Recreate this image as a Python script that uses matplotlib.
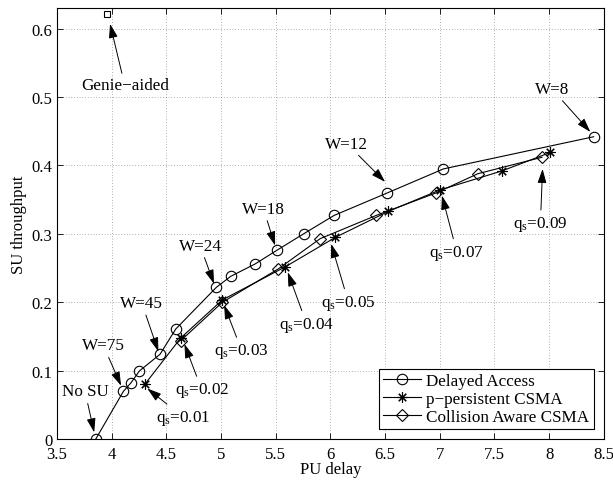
import matplotlib
matplotlib.use("Agg")
import matplotlib.pyplot as plt
import numpy as np

plt.rcParams['font.family'] = ['Liberation Serif', 'DejaVu Serif']
plt.rcParams['mathtext.fontset'] = 'custom'
plt.rcParams['mathtext.rm'] = 'Liberation Serif'
plt.rcParams['mathtext.it'] = 'Liberation Serif:italic'

# Data
da_x = [3.854, 4.107, 4.177, 4.253, 4.442, 4.586, 4.958, 5.089, 5.311, 5.51, 5.754, 6.034, 6.522, 7.034, 8.407]
da_y = [0.0, 0.0698, 0.0824, 0.0996, 0.124, 0.161, 0.222, 0.238, 0.256, 0.276, 0.300, 0.327, 0.360, 0.395, 0.442]

pp_x = [4.305, 4.632, 5.012, 5.589, 6.046, 6.531, 6.998, 7.568, 8.01]
pp_y = [0.0805, 0.148, 0.2035, 0.252, 0.295, 0.333, 0.364, 0.392, 0.419]

ca_x = [4.632, 5.012, 5.525, 5.906, 6.419, 6.968, 7.349, 7.935]
ca_y = [0.144, 0.200, 0.249, 0.293, 0.327, 0.360, 0.388, 0.412]

genie_x = [3.955]
genie_y = [0.621]

legend_labels = ['Delayed Access', 'p\u2212persistent CSMA', 'Collision Aware CSMA']

# annotations: (text, text_x, text_y, tip_x, tip_y)
annotations = [
    ('Genie\u2212aided', 4.12, 0.517, 3.985, 0.607),
    ('W=8', 8.025, 0.512, 8.377, 0.449),
    ('W=12', 6.15, 0.432, 6.50, 0.376),
    ('W=18', 5.387, 0.337, 5.494, 0.283),
    ('W=24', 4.808, 0.283, 4.936, 0.227),
    ('W=45', 4.275, 0.199, 4.427, 0.128),
    ('W=75', 3.924, 0.137, 4.086, 0.078),
    ('No SU', 3.756, 0.0698, 3.84, 0.0098),
    ('q$_{\\rm s}$=0.01', 4.656, 0.032, 4.326, 0.074),
    ('q$_{\\rm s}$=0.02', 4.824, 0.072, 4.665, 0.139),
    ('q$_{\\rm s}$=0.03', 5.19, 0.129, 5.028, 0.196),
    ('q$_{\\rm s}$=0.04', 5.784, 0.168, 5.61, 0.244),
    ('q$_{\\rm s}$=0.05', 6.165, 0.200, 6.007, 0.2855),
    ('q$_{\\rm s}$=0.07', 7.157, 0.273, 7.02, 0.356),
    ('q$_{\\rm s}$=0.09', 7.92, 0.315, 7.94, 0.395),
]

fig = plt.figure(figsize=(6.13, 4.81), dpi=100)
ax = fig.add_axes([0.093, 0.085, 0.892, 0.896])

lw = 0.8
ax.plot(da_x, da_y, color='k', lw=lw, marker='o', ms=7.5, mfc='none', mec='k', mew=0.8, label=legend_labels[0])
ax.plot(pp_x, pp_y, color='k', lw=lw, marker=(8, 2, 0), ms=7.5, mec='k', mew=0.8, label=legend_labels[1])
ax.plot(ca_x, ca_y, color='k', lw=lw, marker='D', ms=6, mfc='none', mec='k', mew=0.8, label=legend_labels[2])
ax.plot(genie_x, genie_y, ls='none', marker='s', ms=5, mfc='none', mec='k', mew=0.8)

for txt, tx, ty, px, py in annotations:
    ax.annotate(txt, xy=(px, py), xytext=(tx, ty), ha='center', va='center', fontsize=12.3,
                arrowprops=dict(arrowstyle='-|>,head_length=0.7,head_width=0.22', color='k', lw=0.7,
                                shrinkA=1, shrinkB=0))

ax.set_xlim(3.5, 8.5)
ax.set_ylim(0, 0.63)
ax.set_xticks(np.arange(3.5, 8.51, 0.5))
ax.set_xticklabels(['3.5', '4', '4.5', '5', '5.5', '6', '6.5', '7', '7.5', '8', '8.5'])
ax.set_yticks(np.arange(0, 0.61, 0.1))
ax.set_yticklabels(['0', '0.1', '0.2', '0.3', '0.4', '0.5', '0.6'])
ax.tick_params(direction='in', top=True, right=True, labelsize=12, length=4, width=0.6)
ax.tick_params(axis='x', pad=5)
ax.grid(True, ls=(0, (1, 3)), color='k', lw=0.5, alpha=0.6)
for s in ax.spines.values():
    s.set_linewidth(0.8)

ax.set_xlabel('PU delay', fontsize=12, labelpad=-1)
ax.set_ylabel('SU throughput', fontsize=12, labelpad=3)

leg = ax.legend(loc='lower right', fontsize=12.3, fancybox=False, edgecolor='k', framealpha=1,
                handlelength=2.2, borderpad=0.25, labelspacing=0.1, handletextpad=0.3,
                borderaxespad=0.6)
leg.get_frame().set_linewidth(0.8)

fig.savefig('out.png', dpi=100)
